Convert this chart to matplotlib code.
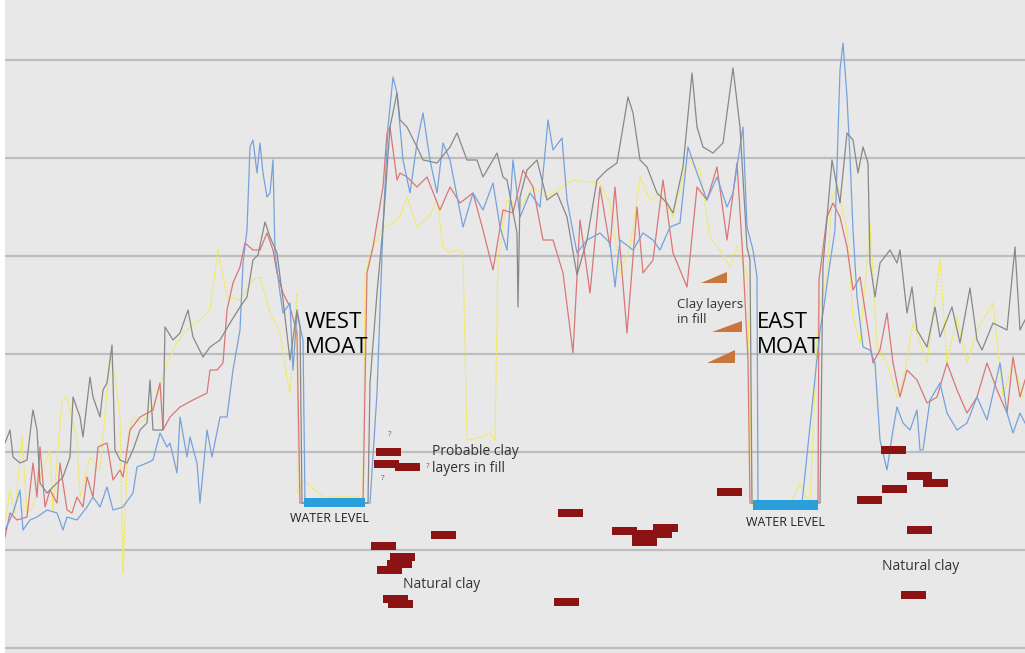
import numpy as np
import matplotlib.pyplot as plt

plt.rcParams['font.family'] = ['Open Sans', 'DejaVu Sans']

# distance along the transect and the four sensor traces (arbitrary units, grid every 98)
grey_x = [5, 10, 13, 20, 27, 32, 33, 37, 40, 47, 53, 63, 70, 73, 80, 83, 90, 93, 100, 103,
          107, 112, 115, 120, 127, 133, 140, 147, 150, 153, 163, 165, 173, 180, 188, 193, 203, 210, 220, 230,
          240, 247, 253, 258, 265, 270, 277, 283, 290, 297, 300, 302, 368, 370, 377, 383, 390, 397, 400, 407,
          417, 423, 437, 450, 457, 467, 477, 483, 497, 503, 507, 517, 518, 520, 527, 537, 547, 557, 567, 577,
          587, 597, 607, 617, 628, 633, 640, 647, 657, 667, 673, 683, 692, 697, 703, 713, 723, 733, 740, 747,
          750, 752, 820, 823, 832, 840, 847, 853, 858, 863, 868, 870, 875, 880, 890, 897, 900, 907, 912, 917,
          927, 935, 940, 952, 960, 970, 977, 982, 993, 1007, 1015, 1020, 1025]
grey_y = [205, 218, 191, 185, 188, 231, 238, 218, 165, 155, 161, 171, 191, 251, 231, 211, 271, 251, 231, 258,
          265, 303, 198, 188, 185, 198, 218, 225, 268, 218, 218, 321, 308, 315, 338, 311, 291, 301, 308, 325,
          341, 351, 388, 393, 426, 411, 395, 348, 288, 338, 321, 145, 145, 265, 355, 421, 521, 555, 528, 521,
          501, 488, 485, 501, 515, 488, 488, 471, 495, 471, 468, 415, 341, 451, 478, 488, 448, 455, 431, 373,
          408, 468, 478, 485, 551, 535, 488, 481, 455, 445, 435, 481, 575, 521, 501, 495, 505, 580, 521, 401,
          388, 145, 145, 383, 488, 445, 515, 508, 475, 501, 485, 385, 351, 385, 398, 385, 398, 335, 361, 318,
          301, 341, 311, 341, 305, 360, 308, 298, 325, 318, 401, 318, 328]

red_x = [5, 10, 17, 27, 33, 37, 40, 45, 50, 57, 60, 67, 72, 77, 83, 87, 93, 98, 107, 113,
         120, 123, 130, 140, 153, 160, 163, 170, 180, 193, 207, 210, 217, 223, 227, 233, 240, 245, 253, 260,
         267, 273, 277, 283, 290, 297, 298, 300, 363, 367, 373, 383, 387, 390, 397, 400, 407, 417, 427, 440,
         450, 460, 473, 483, 493, 503, 513, 523, 533, 543, 553, 563, 573, 580, 590, 600, 610, 615, 627, 637,
         643, 653, 663, 673, 687, 697, 707, 717, 727, 737, 743, 748, 750, 818, 819, 827, 833, 840, 847, 853,
         860, 867, 873, 880, 887, 893, 900, 907, 917, 927, 937, 947, 957, 967, 977, 987, 997, 1007, 1013, 1020,
         1025]
red_y = [111, 135, 128, 131, 185, 151, 201, 141, 158, 145, 185, 138, 135, 151, 141, 171, 151, 201, 205, 168,
         178, 171, 218, 231, 238, 265, 218, 231, 241, 248, 255, 278, 278, 285, 338, 365, 381, 405, 398, 398,
         415, 398, 375, 355, 341, 315, 255, 145, 145, 375, 401, 461, 515, 521, 468, 475, 471, 461, 471, 438,
         461, 445, 455, 418, 378, 438, 435, 478, 461, 408, 408, 375, 295, 428, 355, 461, 401, 461, 315, 441,
         375, 388, 468, 395, 361, 461, 448, 481, 408, 485, 388, 288, 145, 145, 368, 431, 445, 431, 401, 358,
         371, 325, 285, 298, 335, 285, 251, 278, 268, 245, 251, 285, 258, 235, 251, 285, 258, 235, 291, 251,
         268]

blue_x = [5, 13, 20, 23, 30, 37, 47, 57, 63, 67, 77, 87, 93, 100, 107, 113, 123, 133, 137, 147,
          153, 160, 167, 170, 177, 180, 187, 190, 197, 200, 207, 212, 220, 227, 233, 240, 243, 247, 250, 253,
          257, 260, 263, 267, 270, 273, 275, 280, 283, 290, 293, 297, 303, 305, 370, 377, 383, 388, 393, 397,
          403, 410, 417, 423, 430, 437, 443, 450, 463, 473, 483, 493, 500, 507, 513, 520, 530, 540, 548, 553,
          562, 567, 577, 587, 600, 610, 615, 620, 633, 643, 653, 660, 670, 680, 688, 697, 707, 717, 727, 733,
          743, 747, 753, 757, 758, 802, 820, 823, 830, 835, 840, 843, 847, 850, 853, 857, 863, 870, 875, 880,
          887, 893, 897, 903, 910, 917, 920, 923, 930, 940, 947, 957, 967, 977, 987, 1000, 1007, 1013, 1020, 1025]
blue_y = [118, 135, 158, 118, 128, 131, 138, 135, 118, 131, 128, 141, 151, 141, 161, 138, 141, 155, 181, 185,
          188, 215, 201, 205, 175, 231, 191, 211, 185, 145, 218, 191, 231, 231, 278, 318, 385, 418, 501, 508,
          475, 505, 475, 451, 455, 488, 395, 355, 335, 345, 278, 335, 308, 145, 145, 255, 421, 521, 571, 555,
          488, 455, 505, 535, 488, 455, 505, 488, 421, 455, 438, 465, 421, 398, 488, 431, 455, 441, 528, 498,
          510, 448, 395, 408, 415, 405, 361, 408, 398, 415, 408, 398, 421, 425, 501, 475, 448, 471, 441, 455,
          521, 421, 398, 371, 143, 145, 318, 335, 385, 418, 578, 605, 551, 491, 418, 351, 301, 298, 285, 208,
          178, 218, 241, 225, 218, 238, 198, 198, 248, 265, 235, 218, 225, 251, 228, 285, 235, 215, 235, 225]

yellow_x = [5, 10, 15, 22, 27, 33, 40, 50, 53, 62, 67, 77, 80, 90, 100, 110, 115, 120, 123, 128,
            133, 140, 147, 157, 167, 177, 187, 200, 210, 218, 227, 240, 253, 260, 270, 280, 287, 290, 297, 298,
            303, 323, 363, 365, 373, 383, 390, 400, 407, 417, 430, 437, 443, 450, 457, 463, 467, 483, 490, 495,
            498, 507, 520, 533, 547, 573, 600, 610, 620, 630, 640, 650, 660, 673, 687, 700, 710, 720, 730, 737,
            747, 750, 752, 790, 800, 810, 818, 827, 832, 838, 847, 853, 860, 867, 870, 877, 887, 897, 903, 913,
            927, 940, 947, 957, 967, 977, 993, 1003, 1013, 1023]
yellow_y = [125, 158, 135, 211, 135, 141, 171, 198, 138, 248, 251, 208, 151, 191, 178, 291, 271, 231, 75, 211,
            231, 225, 231, 251, 285, 305, 318, 328, 338, 398, 351, 348, 368, 371, 335, 315, 271, 255, 355, 155,
            168, 151, 151, 375, 401, 421, 423, 431, 451, 421, 433, 448, 401, 395, 398, 395, 208, 211, 215, 208,
            388, 448, 440, 461, 451, 468, 465, 445, 375, 401, 471, 448, 455, 431, 488, 478, 411, 398, 381, 401,
            375, 255, 143, 143, 165, 143, 335, 371, 451, 461, 418, 331, 305, 385, 425, 301, 285, 251, 265, 325,
            285, 388, 285, 331, 285, 318, 345, 251, 285, 251]

# clay blocks: left edge and bottom level
clay_x = [376, 374, 395, 558, 431, 371, 390, 387, 377, 383, 388, 554, 612, 632, 647, 632, 653,
          717, 881, 907, 923, 882, 857, 907, 901]
clay_y = [192, 180, 177, 131, 109, 98, 87, 80, 74, 45, 40, 42, 113, 110, 110, 102, 116,
          152, 194, 168, 161, 155, 144, 114, 49]

# water level in the two moats
water_x = [304, 753]
water_w = [61, 65]
water_y = [141, 138]
water_h = [9, 10]

# clay layers in the east moat fill (wedges)
wedge_x0 = [701, 712, 707]
wedge_x1 = [727, 742, 735]
wedge_y = [365, 316, 285]
wedge_h = [11, 11, 13]

fig = plt.figure(figsize=(10.25, 6.53), dpi=100, facecolor='white')
ax = fig.add_axes([5 / 1025, 0, 1020 / 1025, 1])
ax.set_facecolor('#e8e8e8')
ax.set_xlim(5, 1025)
ax.set_ylim(-5, 648)
for s in ax.spines.values():
    s.set_visible(False)
ax.set_xticks([])
ax.set_yticks(np.arange(0, 589, 98))
ax.tick_params(left=False, labelleft=False)
ax.grid(axis='y', color='#bdbdbd', lw=1.6)
ax.set_axisbelow(True)

ax.plot(yellow_x, yellow_y, color='#f3ea4c', lw=0.9, dashes=(2, 1))
ax.plot(red_x, red_y, color='#da7676', lw=0.9)
ax.plot(blue_x, blue_y, color='#76a2dc', lw=0.9)
ax.plot(grey_x, grey_y, color='#888888', lw=0.9)

ax.bar(water_x, water_h, width=water_w, bottom=water_y, align='edge', color='#2a9fdc', zorder=4)
ax.bar(clay_x, 8.5, width=25, bottom=clay_y, align='edge', color='#8c1313', zorder=4)
for x0, x1, y, h in zip(wedge_x0, wedge_x1, wedge_y, wedge_h):
    ax.fill([x0, x1, x1], [y, y, y + h], color='#c8763c', lw=0, zorder=4)

ax.text(305, 313, 'WEST\nMOAT', fontsize=16, color='black', va='center', ha='left', linespacing=1.3, zorder=5)
ax.text(757, 313, 'EAST\nMOAT', fontsize=16, color='black', va='center', ha='left', linespacing=1.3, zorder=5)
ax.text(330, 130, 'WATER LEVEL', fontsize=9, color='#222222', ha='center', va='center', zorder=5)
ax.text(786, 126, 'WATER LEVEL', fontsize=9, color='#222222', ha='center', va='center', zorder=5)
ax.text(432, 188, 'Probable clay\nlayers in fill', fontsize=10, color='#333333', ha='left', va='center',
        linespacing=1.2, zorder=5)
ax.text(403, 63, 'Natural clay', fontsize=10, color='#333333', ha='left', va='center', zorder=5)
ax.text(882, 82, 'Natural clay', fontsize=10, color='#333333', ha='left', va='center', zorder=5)
ax.text(677, 336, 'Clay layers\nin fill', fontsize=9.5, color='#333333', ha='left', va='center',
        linespacing=1.25, zorder=5)
for qx, qy in [(390, 213), (428, 181), (383, 169)]:
    ax.text(qx, qy, '?', fontsize=6, color='#b03a2e', ha='center', va='center', zorder=5)

fig.savefig('out.png', dpi=100, facecolor='white')
